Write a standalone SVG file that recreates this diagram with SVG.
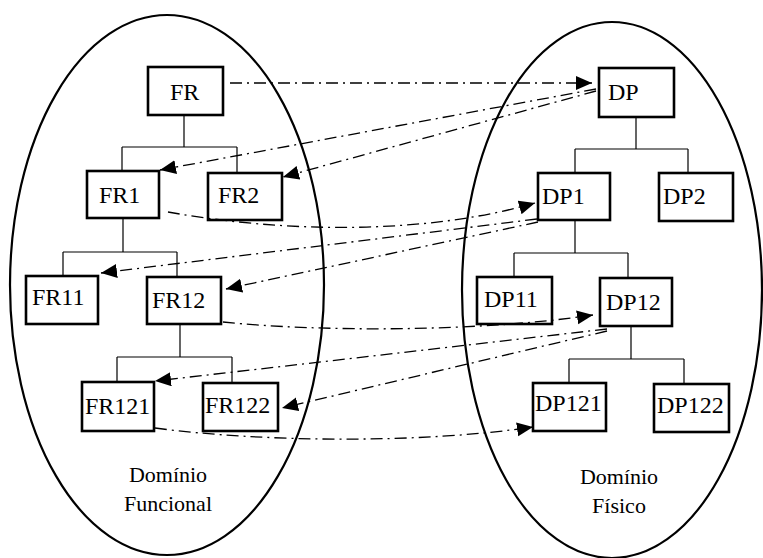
<svg xmlns="http://www.w3.org/2000/svg" width="763" height="558" viewBox="0 0 763 558">
<style>
.dom{fill:none;stroke:#000;stroke-width:2.2}
.box{fill:#fff;stroke:#000;stroke-width:2.6}
.tree{fill:none;stroke:#000;stroke-width:1.2}
.lbl{font-size:24px;fill:#000}
.cap{font-size:22px;fill:#000;text-anchor:middle}
.map{fill:none;stroke:#000;stroke-width:1.3;stroke-dasharray:12 5 2 5;marker-end:url(#ah)}
</style>
<defs>
<marker id="ah" markerUnits="userSpaceOnUse" markerWidth="18" markerHeight="16" refX="16" refY="7" orient="auto">
<path d="M0,0 L16,7 L0,14 z" fill="#000"/>
</marker>
</defs>
<g font-family="Liberation Serif, DejaVu Serif, serif">
<g id="dominio-funcional">
<ellipse class="dom" cx="167" cy="285" rx="157" ry="270"/>
<text class="cap" x="168" y="482">Domínio</text>
<text class="cap" x="168" y="511">Funcional</text>
</g>
<g id="dominio-fisico">
<ellipse class="dom" cx="612" cy="290" rx="150" ry="268"/>
<text class="cap" x="619" y="484">Domínio</text>
<text class="cap" x="619" y="513">Físico</text>
</g>
<g id="tree-lines">
<path class="tree" d="M184,115 V147 M122,147 H237 M122,147 V171 M237,147 V173"/>
<path class="tree" d="M123,218 V252 M63,252 H177 M63,252 V276 M177,252 V277"/>
<path class="tree" d="M180,324 V357 M117,357 H232 M117,357 V382 M232,357 V383"/>
<path class="tree" d="M636,117 V149 M575,149 H688 M575,149 V173 M688,149 V173"/>
<path class="tree" d="M575,220 V253 M514,253 H628 M514,253 V277 M628,253 V278"/>
<path class="tree" d="M631,326 V359 M569,359 H684 M569,359 V383 M684,359 V384"/>
</g>
<g id="FR"><rect class="box" x="148" y="67" width="75" height="48"/><text class="lbl" x="170" y="100">FR</text></g>
<g id="FR1"><rect class="box" x="87" y="171" width="72" height="47"/><text class="lbl" x="99" y="203">FR1</text></g>
<g id="FR2"><rect class="box" x="208" y="173" width="74" height="47"/><text class="lbl" x="218" y="203">FR2</text></g>
<g id="FR11"><rect class="box" x="26" y="276" width="72" height="48"/><text class="lbl" x="32" y="305">FR11</text></g>
<g id="FR12"><rect class="box" x="147" y="277" width="74" height="47"/><text class="lbl" x="152" y="308">FR12</text></g>
<g id="FR121"><rect class="box" x="82" y="382" width="72" height="49"/><text class="lbl" x="85" y="414">FR121</text></g>
<g id="FR122"><rect class="box" x="203" y="383" width="75" height="48"/><text class="lbl" x="205" y="413">FR122</text></g>
<g id="DP"><rect class="box" x="599" y="68" width="75" height="49"/><text class="lbl" x="608" y="100">DP</text></g>
<g id="DP1"><rect class="box" x="538" y="173" width="72" height="47"/><text class="lbl" x="542" y="204">DP1</text></g>
<g id="DP2"><rect class="box" x="659" y="173" width="74" height="48"/><text class="lbl" x="663" y="204">DP2</text></g>
<g id="DP11"><rect class="box" x="477" y="277" width="75" height="47"/><text class="lbl" x="484" y="307">DP11</text></g>
<g id="DP12"><rect class="box" x="600" y="278" width="72" height="48"/><text class="lbl" x="606" y="310">DP12</text></g>
<g id="DP121"><rect class="box" x="533" y="383" width="73" height="48"/><text class="lbl" x="535" y="411">DP121</text></g>
<g id="DP122"><rect class="box" x="654" y="384" width="75" height="48"/><text class="lbl" x="657" y="413">DP122</text></g>
</g>
<g id="connectors">
<path class="map" d="M230,83 L592,83"/>
<path class="map" d="M596,89 L160,170"/>
<path class="map" d="M596,91 L283,177"/>
<path class="map" d="M168,212 C280,232 420,236 535,203"/>
<path class="map" d="M537,219 L101,273"/>
<path class="map" d="M538,222 L226,289"/>
<path class="map" d="M223,322 C320,332 480,332 593,315"/>
<path class="map" d="M607,329 L155,381"/>
<path class="map" d="M607,331 L282,408"/>
<path class="map" d="M155,428 C260,442 420,444 533,427"/>
</g>
</svg>
